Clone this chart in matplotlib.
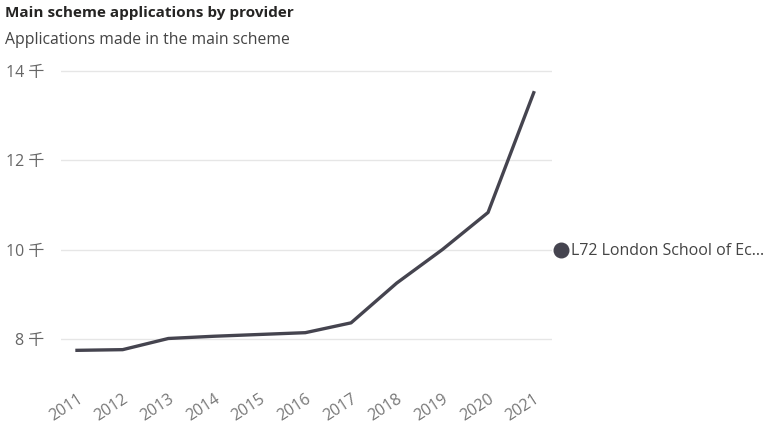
import matplotlib
matplotlib.use('Agg')
import matplotlib.pyplot as plt

years = [2011, 2012, 2013, 2014, 2015, 2016, 2017, 2018, 2019, 2020, 2021]
applications = [7745, 7760, 8010, 8060, 8100, 8140, 8360, 9250, 10000, 10830, 13510]
yticks = [8000, 10000, 12000, 14000]
ytick_labels = ['8 千', '10 千', '12 千', '14 千']
series_name = 'L72 London School of Ec...'

fonts = ['Open Sans', 'Noto Sans CJK SC', 'DejaVu Sans']
plt.rcParams['font.family'] = fonts

W, H = 764, 425
fig = plt.figure(figsize=(W / 100, H / 100), dpi=100)
ax = fig.add_axes([61 / W, 1 - 372 / H, (552 - 61) / W, (372 - 65) / H])

line_color = '#45444f'
ax.plot(years, applications, color=line_color, lw=2.4, solid_joinstyle='round')

ax.set_xlim(2010.65, 2021.4)
ax.set_ylim(7260, 14130)
ax.set_yticks(yticks)
ax.set_yticklabels(ytick_labels, fontsize=11.5, color='#666666')
ax.set_xticks(years)
ax.set_xticklabels([str(y) for y in years], fontsize=11.5, color='#777777',
                   rotation=33, ha='right', va='top', rotation_mode='anchor')
ax.tick_params(axis='both', length=0)
ax.tick_params(axis='y', pad=12)
ax.tick_params(axis='x', pad=14)
ax.grid(axis='y', color='#e6e6e6', lw=1)
ax.set_axisbelow(True)
for s in ax.spines.values():
    s.set_visible(False)

fig.text(5 / W, 1 - 13 / H, 'Main scheme applications by provider', fontsize=11,
         fontweight='bold', color='#252423', va='center', ha='left')
fig.text(5 / W, 1 - 40 / H, 'Applications made in the main scheme', fontsize=11.3,
         color='#444444', va='center', ha='left')

# end label on the right
ax.scatter([561 / W], [1 - 250 / H], s=110, color=line_color, transform=fig.transFigure,
           clip_on=False, zorder=5)
fig.text(571 / W, 1 - 251 / H, series_name, fontsize=11.5, color='#444444',
         va='center', ha='left')

plt.savefig('out.png', dpi=100, facecolor='white')
